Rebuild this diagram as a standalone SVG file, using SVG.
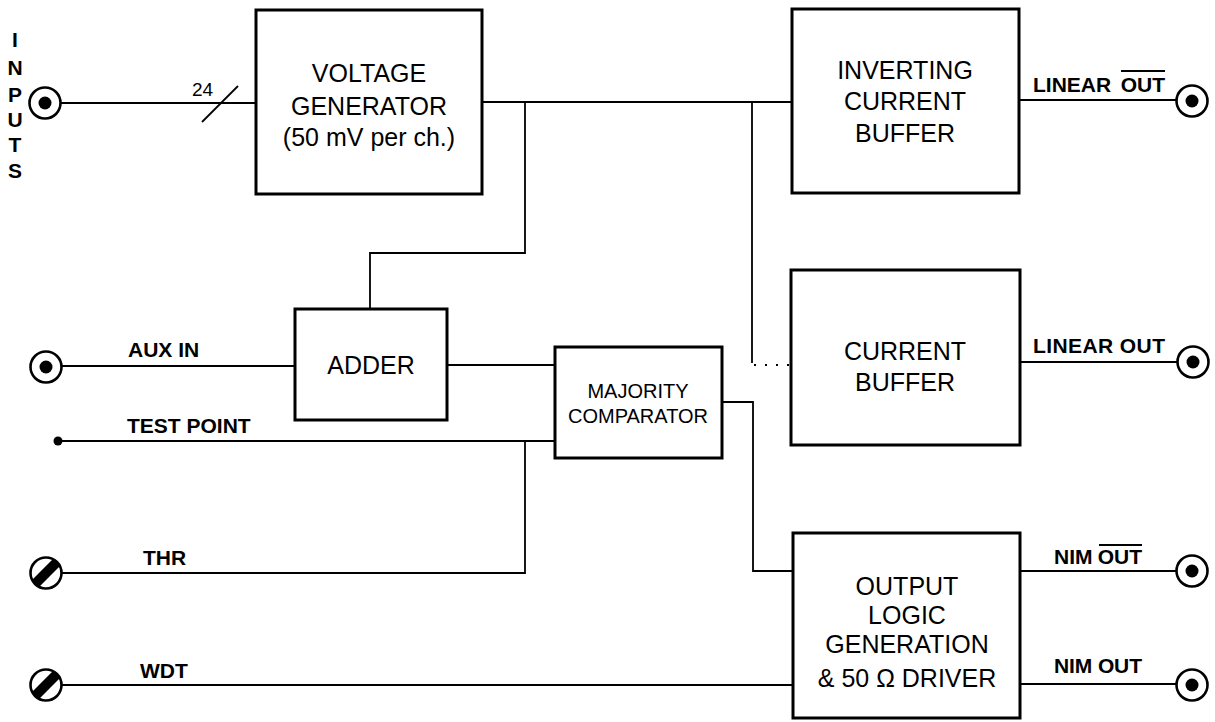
<svg xmlns="http://www.w3.org/2000/svg" width="1215" height="722" viewBox="0 0 1215 722">
<style>
.box{fill:#fff;stroke:#000;stroke-width:3}
.w{fill:none;stroke:#000;stroke-width:1.8}
.bt{font-family:"Liberation Sans",Arial,sans-serif;font-size:25px;text-anchor:middle;fill:#000}
.st{font-family:"Liberation Sans",Arial,sans-serif;font-size:20px;text-anchor:middle;fill:#000}
.lb{font-family:"Liberation Sans",Arial,sans-serif;font-size:21px;font-weight:bold;fill:#000}
.ov{stroke:#000;stroke-width:2.2}
</style>
<defs>
<clipPath id="cc"><circle cx="0" cy="0" r="15"/></clipPath>
<g id="bnc"><circle cx="0" cy="0" r="15.5" fill="#fff" stroke="#000" stroke-width="2.6"/><circle cx="0" cy="0" r="6.5" fill="#000"/></g>
<g id="trim"><circle cx="0" cy="0" r="15.5" fill="#fff" stroke="#000" stroke-width="2.6"/><line x1="-13" y1="13" x2="13" y2="-13" stroke="#000" stroke-width="10" clip-path="url(#cc)"/></g>
</defs>

<g id="connectors">
<path class="w" d="M61 103H256"/>
<path class="w" d="M202 122L238 86"/>
<path class="w" d="M482 102H791"/>
<path class="w" d="M525 102V253H370V309"/>
<path class="w" d="M752 102V363"/>
<path class="w" d="M754 365H791" stroke-dasharray="2 9"/>
<path class="w" d="M62 366H295"/>
<path class="w" d="M447 365H555"/>
<path class="w" d="M58 441H555"/>
<path class="w" d="M62 573H525V441"/>
<path class="w" d="M722 402H753V571H793"/>
<path class="w" d="M62 685H793"/>
<path class="w" d="M1019 100H1177"/>
<path class="w" d="M1020 362H1177"/>
<path class="w" d="M1020 571H1177"/>
<path class="w" d="M1020 684H1177"/>
</g>

<g id="inputs">
<text class="lb" font-size="20" text-anchor="middle" x="15" y="47">I</text>
<text class="lb" font-size="20" text-anchor="middle" x="15" y="75">N</text>
<text class="lb" font-size="20" text-anchor="middle" x="15" y="102">P</text>
<text class="lb" font-size="20" text-anchor="middle" x="15" y="127">U</text>
<text class="lb" font-size="20" text-anchor="middle" x="15" y="152">T</text>
<text class="lb" font-size="20" text-anchor="middle" x="15" y="178">S</text>
<use href="#bnc" x="45" y="103"/>
<text font-family="Liberation Sans,Arial,sans-serif" font-size="19" x="192" y="96">24</text>
</g>

<g id="aux-in">
<use href="#bnc" x="46" y="367"/>
<text class="lb" x="128" y="357">AUX IN</text>
</g>
<g id="test-point">
<circle cx="58" cy="441" r="4.5" fill="#000"/>
<text class="lb" x="127" y="433">TEST POINT</text>
</g>
<g id="thr">
<use href="#trim" x="46" y="573"/>
<text class="lb" x="143" y="565">THR</text>
</g>
<g id="wdt">
<use href="#trim" x="46" y="685"/>
<text class="lb" x="140" y="678">WDT</text>
</g>

<g id="voltage-generator">
<rect class="box" x="256" y="10" width="226" height="184"/>
<text class="bt" x="369" y="82">VOLTAGE</text>
<text class="bt" x="369" y="115">GENERATOR</text>
<text class="bt" x="369" y="146">(50 mV per ch.)</text>
</g>

<g id="adder">
<rect class="box" x="295" y="309" width="152" height="111"/>
<text class="bt" x="371" y="374">ADDER</text>
</g>

<g id="majority-comparator">
<rect class="box" x="555" y="347" width="167" height="111"/>
<text class="st" x="638" y="398">MAJORITY</text>
<text class="st" x="638" y="423">COMPARATOR</text>
</g>

<g id="inverting-current-buffer">
<rect class="box" x="792" y="9" width="227" height="184"/>
<text class="bt" x="905" y="79">INVERTING</text>
<text class="bt" x="905" y="110">CURRENT</text>
<text class="bt" x="905" y="142">BUFFER</text>
</g>

<g id="current-buffer">
<rect class="box" x="791" y="270" width="229" height="175"/>
<text class="bt" x="905" y="360">CURRENT</text>
<text class="bt" x="905" y="391">BUFFER</text>
</g>

<g id="output-logic">
<rect class="box" x="793" y="533" width="227" height="185"/>
<text class="bt" x="907" y="595">OUTPUT</text>
<text class="bt" x="907" y="624">LOGIC</text>
<text class="bt" x="907" y="653">GENERATION</text>
<text class="bt" x="907" y="687">&amp; 50 Ω DRIVER</text>
</g>

<g id="linear-out-inv">
<text class="lb" x="1033" y="92">LINEAR</text>
<text class="lb" x="1165" y="92" text-anchor="end">OUT</text>
<line class="ov" x1="1121" y1="71" x2="1165" y2="71"/>
<use href="#bnc" x="1192" y="101"/>
</g>
<g id="linear-out">
<text class="lb" x="1033" y="353" textLength="132">LINEAR OUT</text>
<use href="#bnc" x="1193" y="362"/>
</g>
<g id="nim-out-inv">
<text class="lb" x="1054" y="564">NIM</text>
<text class="lb" x="1142" y="564" text-anchor="end">OUT</text>
<line class="ov" x1="1099" y1="545" x2="1142" y2="545"/>
<use href="#bnc" x="1192" y="571"/>
</g>
<g id="nim-out">
<text class="lb" x="1054" y="673" textLength="88">NIM OUT</text>
<use href="#bnc" x="1192" y="685"/>
</g>
</svg>
